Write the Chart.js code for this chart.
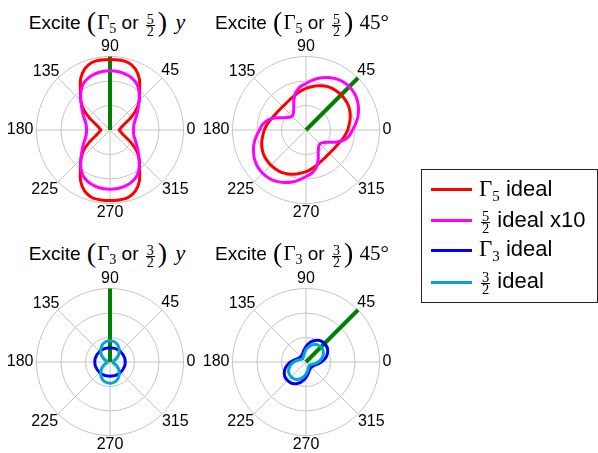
<!DOCTYPE html>
<html>
<head>
<meta charset="utf-8">
<script src="https://cdn.jsdelivr.net/npm/chart.js@4.4.1/dist/chart.umd.min.js"></script>
<style>
  body { margin: 0; background: #fff; }
  #page { position: relative; width: 598px; height: 453px; overflow: hidden; font-family: 'Liberation Sans', Arial, sans-serif; color: #000; }
  #page canvas { position: absolute; }
  .title { position: absolute; width: 260px; height: 20px; text-align: center; font-size: 19px; line-height: 20px; white-space: nowrap; }
  .m { font-family: 'Liberation Serif', 'Times New Roman', serif; font-size: 21px; line-height: 0; }
  .mi { font-family: 'Liberation Serif', 'Times New Roman', serif; font-style: italic; font-size: 22px; line-height: 0; margin-left: 2px; }
  .big { font-family: 'Liberation Serif', serif; font-size: 28px; line-height: 0; vertical-align: -1.5px; margin: 0 1px; }
  .sub { font-family: 'Liberation Serif', serif; font-size: 14px; line-height: 0; vertical-align: -4px; }
  .frac { display: inline-block; vertical-align: -6.7px; font-family: 'Liberation Serif', serif; font-size: 14px; line-height: 11px; text-align: center; margin: 0 2px; }
  .frac span { display: block; padding: 0 1px; }
  .frac span:first-child { border-bottom: 1px solid #000; }
  #legend { position: absolute; left: 421px; top: 169px; width: 177px; height: 134px; box-sizing: border-box; border: 1px solid #262626; }
  .lline { position: absolute; left: 431px; width: 41px; height: 3px; }
  .ltext { position: absolute; left: 479px; height: 20px; font-size: 22px; line-height: 20px; white-space: nowrap; }
  .ltext .m { font-size: 23px; }
  .ltext .sub { font-size: 15px; vertical-align: -4.5px; }
  .ltext .frac { font-size: 14.5px; line-height: 11px; vertical-align: -5.5px; margin: 0 1px 0 2px; }
</style>
</head>
<body>
<div id="page">
  <canvas id="p1" width="250" height="182" style="left:-15px;top:39px"></canvas>
  <canvas id="p2" width="250" height="182" style="left:181px;top:39px"></canvas>
  <canvas id="p3" width="250" height="182" style="left:-15px;top:271px"></canvas>
  <canvas id="p4" width="250" height="182" style="left:181px;top:271px"></canvas>

  <div class="title" style="left:-23px;top:13px">Excite <span class="big">(</span><span class="m">Γ</span><span class="sub">5</span> or <span class="frac"><span>5</span><span>2</span></span><span class="big">)</span> <span class="mi">y</span></div>
  <div class="title" style="left:172px;top:13px">Excite <span class="big">(</span><span class="m">Γ</span><span class="sub">5</span> or <span class="frac"><span>5</span><span>2</span></span><span class="big">)</span> <span class="m">45°</span></div>
  <div class="title" style="left:-23px;top:244px">Excite <span class="big">(</span><span class="m">Γ</span><span class="sub">3</span> or <span class="frac"><span>3</span><span>2</span></span><span class="big">)</span> <span class="mi">y</span></div>
  <div class="title" style="left:172px;top:244px">Excite <span class="big">(</span><span class="m">Γ</span><span class="sub">3</span> or <span class="frac"><span>3</span><span>2</span></span><span class="big">)</span> <span class="m">45°</span></div>

  <div id="legend"></div>
  <div class="lline" id="l0" style="top:188px"></div>
  <div class="ltext" style="top:178.7px"><span class="m">Γ</span><span class="sub">5</span> ideal</div>
  <div class="lline" id="l1" style="top:218.5px"></div>
  <div class="ltext" style="top:210px"><span class="frac"><span>5</span><span>2</span></span> ideal x10</div>
  <div class="lline" id="l2" style="top:248.5px"></div>
  <div class="ltext" style="top:239.4px"><span class="m">Γ</span><span class="sub">3</span> ideal</div>
  <div class="lline" id="l3" style="top:280.5px"></div>
  <div class="ltext" style="top:271px"><span class="frac"><span>3</span><span>2</span></span> ideal</div>
</div>
<script>
// polar angles in degrees, counter-clockwise from 0 at the right
const angles = [0, 7.5, 15, 22.5, 30, 37.5, 45, 52.5, 60, 67.5, 75, 82.5,
                90, 97.5, 105, 112.5, 120, 127.5, 135, 142.5, 150, 157.5, 165, 172.5,
                180, 187.5, 195, 202.5, 210, 217.5, 225, 232.5, 240, 247.5, 255, 262.5,
                270, 277.5, 285, 292.5, 300, 307.5, 315, 322.5, 330, 337.5, 345, 352.5];
const angleLabels = [0, 45, 90, 135, 180, 225, 270, 315];
const rMax = 3;

// excite (Γ5 or 5/2) y
const red1 = [0.37, 0.42, 0.50, 0.64, 0.95, 1.35, 1.68, 1.98, 2.40, 2.70, 2.85, 2.88, 2.88,
              2.88, 2.85, 2.70, 2.40, 1.98, 1.68, 1.35, 0.95, 0.64, 0.50, 0.42,
              0.37, 0.42, 0.50, 0.64, 0.95, 1.35, 1.68, 1.98, 2.40, 2.70, 2.85, 2.88, 2.88,
              2.88, 2.85, 2.70, 2.40, 1.98, 1.68, 1.35, 0.95, 0.64, 0.50, 0.42];
const magenta1 = [0.96, 0.97, 1.02, 1.12, 1.27, 1.45, 1.68, 1.95, 2.18, 2.30, 2.37, 2.41, 2.42,
                  2.41, 2.37, 2.30, 2.18, 1.95, 1.68, 1.45, 1.27, 1.12, 1.02, 0.97,
                  0.96, 0.97, 1.02, 1.12, 1.27, 1.45, 1.68, 1.95, 2.18, 2.30, 2.37, 2.41, 2.42,
                  2.41, 2.37, 2.30, 2.18, 1.95, 1.68, 1.45, 1.27, 1.12, 1.02, 0.97];
// excite (Γ5 or 5/2) 45°
const red2 = [1.70, 1.78, 1.87, 1.94, 2.00, 2.02, 2.03, 2.02, 2.00, 1.94, 1.87, 1.78,
              1.70, 1.61, 1.52, 1.44, 1.39, 1.36, 1.35, 1.36, 1.39, 1.44, 1.52, 1.61,
              1.70, 1.78, 1.87, 1.94, 2.00, 2.02, 2.03, 2.02, 2.00, 1.94, 1.87, 1.78,
              1.70, 1.61, 1.52, 1.44, 1.39, 1.36, 1.35, 1.36, 1.39, 1.44, 1.52, 1.61];
const magenta2 = [1.90, 2.05, 2.20, 2.32, 2.42, 2.48, 2.50, 2.48, 2.42, 2.32, 2.20, 2.05,
                  1.90, 1.78, 1.60, 1.30, 1.00, 0.85, 0.80, 0.85, 1.00, 1.30, 1.60, 1.78,
                  1.90, 2.05, 2.20, 2.32, 2.42, 2.48, 2.50, 2.48, 2.42, 2.32, 2.20, 2.05,
                  1.90, 1.78, 1.60, 1.30, 1.00, 0.85, 0.80, 0.85, 1.00, 1.30, 1.60, 1.78];
// excite (Γ3 or 3/2) y
const blue3 = [0.62, 0.62, 0.62, 0.61, 0.61, 0.60, 0.60, 0.60, 0.59, 0.59, 0.58, 0.58, 0.58,
               0.58, 0.58, 0.59, 0.59, 0.60, 0.60, 0.60, 0.61, 0.61, 0.62, 0.62,
               0.62, 0.62, 0.62, 0.61, 0.61, 0.60, 0.60, 0.60, 0.59, 0.59, 0.58, 0.58, 0.58,
               0.58, 0.58, 0.59, 0.59, 0.60, 0.60, 0.60, 0.61, 0.61, 0.62, 0.62];
const cyan3 = [0.12, 0.13, 0.16, 0.23, 0.33, 0.43, 0.52, 0.62, 0.71, 0.78, 0.83, 0.86, 0.87,
               0.86, 0.83, 0.78, 0.71, 0.62, 0.52, 0.43, 0.33, 0.23, 0.16, 0.13,
               0.12, 0.13, 0.16, 0.23, 0.33, 0.43, 0.52, 0.62, 0.71, 0.78, 0.83, 0.86, 0.87,
               0.86, 0.83, 0.78, 0.71, 0.62, 0.52, 0.43, 0.33, 0.23, 0.16, 0.13];
// excite (Γ3 or 3/2) 45°
const blue4 = [0.63, 0.75, 0.86, 0.95, 1.02, 1.06, 1.07, 1.06, 1.02, 0.95, 0.86, 0.75,
               0.63, 0.52, 0.43, 0.37, 0.33, 0.31, 0.30, 0.31, 0.33, 0.37, 0.43, 0.52,
               0.63, 0.75, 0.86, 0.95, 1.02, 1.06, 1.07, 1.06, 1.02, 0.95, 0.86, 0.75,
               0.63, 0.52, 0.43, 0.37, 0.33, 0.31, 0.30, 0.31, 0.33, 0.37, 0.43, 0.52];
const cyan4 = [0.49, 0.59, 0.68, 0.76, 0.82, 0.85, 0.86, 0.85, 0.82, 0.76, 0.68, 0.59,
               0.49, 0.40, 0.32, 0.26, 0.22, 0.20, 0.19, 0.20, 0.22, 0.26, 0.32, 0.40,
               0.49, 0.59, 0.68, 0.76, 0.82, 0.85, 0.86, 0.85, 0.82, 0.76, 0.68, 0.59,
               0.49, 0.40, 0.32, 0.26, 0.22, 0.20, 0.19, 0.20, 0.22, 0.26, 0.32, 0.40];

// excitation direction of each panel (green line)
const exciteDir = [90, 45, 90, 45];

const colors = {
    red: '#ff0000',
    magenta: '#ff00ff',
    blue: '#0000ff',
    cyan: '#00a8cc',
    green: '#008000',
    grid: '#c4c4c4'
};

document.getElementById('l0').style.background = colors.red;
document.getElementById('l1').style.background = colors.magenta;
document.getElementById('l2').style.background = colors.blue;
document.getElementById('l3').style.background = colors.cyan;

// radar draws index 0 at the top and goes clockwise, so reorder
const order = angles.map((a, j) => (12 - j + 48) % 48);

function labelPadding(ctx) {
    switch (ctx.label) {
        case '90': return 1.5;
        case '270': return 1.5;
        case '0': return 3;
        case '180': return 3;
        case '45': return -1;
        case '135': return -2;
        case '225': return 0;
        case '315': return 0;
        default: return 0;
    }
}

function makePolar(id, series, dir) {
    let datasets = series.map(s => ({
        label: s.name,
        data: order.map(k => s.values[k]),
        borderColor: s.color,
        backgroundColor: 'transparent',
        borderWidth: 3,
        fill: false,
        tension: 0.3,
        pointRadius: 0
    }));
    datasets.push({
        label: 'excite',
        data: order.map(k => (angles[k] === dir ? rMax : 0)),
        borderColor: colors.green,
        backgroundColor: 'transparent',
        borderWidth: 4,
        fill: false,
        tension: 0,
        pointRadius: 0
    });

    new Chart(document.getElementById(id).getContext('2d'), {
        type: 'radar',
        data: {
            labels: order.map(k => angles[k]),
            datasets: datasets
        },
        options: {
            responsive: false,
            animation: false,
            layout: { padding: 0 },
            plugins: {
                legend: { display: false },
                tooltip: { enabled: false }
            },
            scales: {
                r: {
                    min: 0,
                    max: rMax,
                    ticks: { display: false, stepSize: 1 },
                    grid: { circular: true, color: colors.grid, lineWidth: 1 },
                    angleLines: {
                        color: colors.grid,
                        lineWidth: (ctx) => (ctx.label === '' ? 0 : 1)
                    },
                    pointLabels: {
                        color: '#000',
                        font: { family: "'Liberation Sans', Arial, sans-serif", size: 16, lineHeight: 1 },
                        padding: labelPadding,
                        callback: (label) => (angleLabels.includes(label) ? String(label) : '')
                    }
                }
            }
        }
    });
}

makePolar('p1', [
    { name: '5/2 ideal x10', values: magenta1, color: colors.magenta },
    { name: 'Γ5 ideal', values: red1, color: colors.red }
], exciteDir[0]);
makePolar('p2', [
    { name: '5/2 ideal x10', values: magenta2, color: colors.magenta },
    { name: 'Γ5 ideal', values: red2, color: colors.red }
], exciteDir[1]);
makePolar('p3', [
    { name: '3/2 ideal', values: cyan3, color: colors.cyan },
    { name: 'Γ3 ideal', values: blue3, color: colors.blue }
], exciteDir[2]);
makePolar('p4', [
    { name: '3/2 ideal', values: cyan4, color: colors.cyan },
    { name: 'Γ3 ideal', values: blue4, color: colors.blue }
], exciteDir[3]);
</script>
</body>
</html>
